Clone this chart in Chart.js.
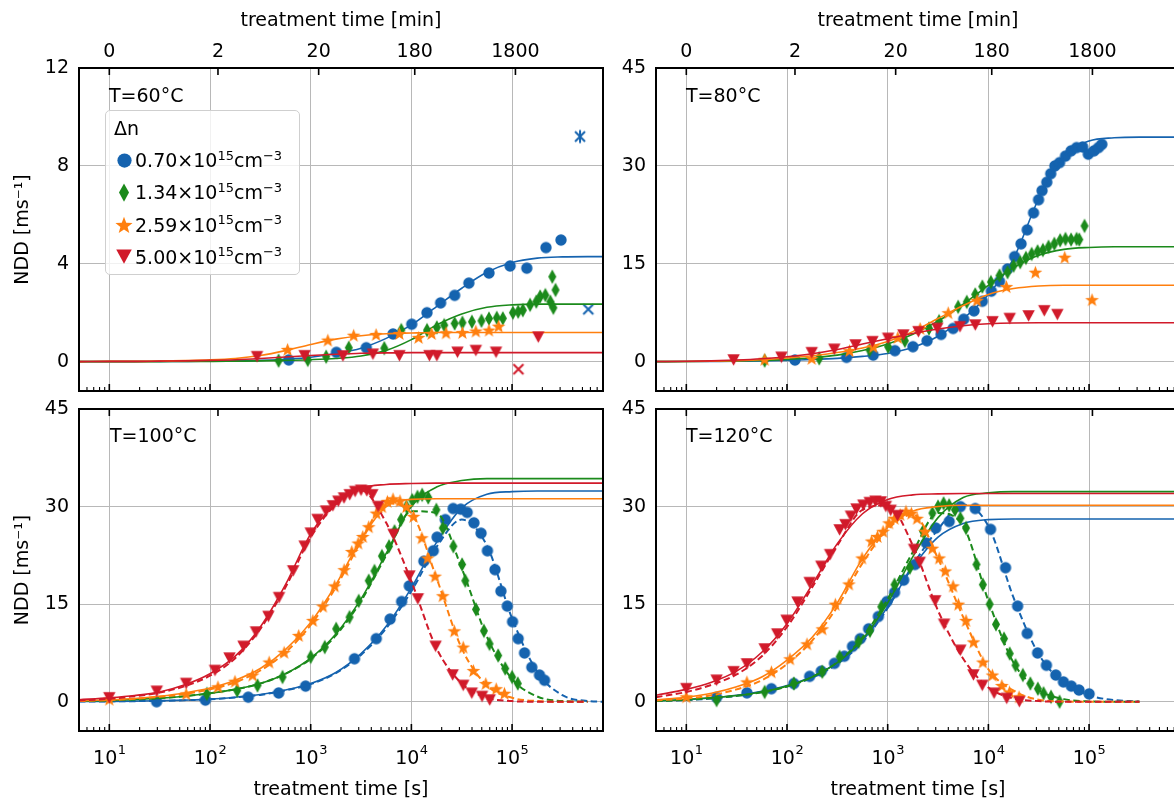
<!DOCTYPE html>
<html>
<head>
<meta charset="utf-8">
<script src="https://cdn.jsdelivr.net/npm/chart.js@4.4.1/dist/chart.umd.min.js"></script>
<style>
html,body{margin:0;padding:0;background:#fff;overflow:hidden;width:1174px;height:803px;position:relative;}
canvas{position:absolute;}
.lbl{position:absolute;font-family:"DejaVu Sans",sans-serif;font-size:19px;line-height:19px;color:#000;white-space:nowrap;}
.sup{font-size:13px;position:relative;top:-7.5px;}
#legend{position:absolute;left:105px;top:110px;width:195px;height:165px;border:1.5px solid #cfcfcf;border-radius:5px;background:rgba(255,255,255,0.8);box-sizing:border-box;}
.mk{position:absolute;}
</style>
</head>
<body>
<canvas id="cTL" width="640" height="430" style="left:0;top:0"></canvas>
<canvas id="cTR" width="640" height="430" style="left:577px;top:0"></canvas>
<canvas id="cBL" width="640" height="443" style="left:0;top:360px"></canvas>
<canvas id="cBR" width="640" height="443" style="left:577px;top:360px"></canvas>
<div id="overlay"></div>
<script>
// ---------- axes ----------
const X_MIN = 5, X_MAX = 800000;
const decadeTicks = [10, 100, 1000, 10000, 100000];
const decadeBase = ['10', '10', '10', '10', '10'];
const decadeExp = ['1', '2', '3', '4', '5'];
const minuteTickSeconds = [10, 120, 1200, 10800, 108000];
const minuteLabels = ['0', '2', '20', '180', '1800'];
const minorMultipliers = [2, 3, 4, 5, 6, 7, 8, 9];
const minorDecades = [1, 10, 100, 1000, 10000, 100000];
const yTicks60 = [0, 4, 8, 12];
const yTicksHigh = [0, 15, 30, 45];
const temperatureLabels = ['T=60\u00B0C', 'T=80\u00B0C', 'T=100\u00B0C', 'T=120\u00B0C'];
const seriesNames = ['0.70', '1.34', '2.59', '5.00'];

// ---------- fit-curve sample times (s) ----------
const fitT = [5, 10, 17.8, 31.6, 56.2, 100, 178, 316, 562, 1000, 1778, 3162, 5623, 10000, 17783, 31623, 56234, 100000, 177828, 316228, 562341, 800000];

// ---------- T = 60 C ----------
const t60BlueT = [605, 1800, 3565, 6570, 10080, 14290, 19500, 26900, 37200, 59000, 95600, 140000, 217000, 306000];
const t60BlueY = [0.07, 0.38, 0.57, 1.13, 1.53, 2.0, 2.4, 2.71, 3.21, 3.62, 3.91, 3.82, 4.66, 4.97];
const t60GreenT = [480, 935, 1425, 2390, 5380, 7940, 14300, 17900, 21200, 26900, 32100, 39900, 49700, 59000, 70500, 81000, 102000, 115000, 128000, 151000, 174000, 190000, 214000, 240000, 251000, 270000, 257000];
const t60GreenY = [0.04, 0.07, 0.2, 0.57, 0.55, 1.29, 1.29, 1.4, 1.49, 1.56, 1.59, 1.63, 1.67, 1.76, 1.79, 1.77, 2.0, 2.04, 2.1, 2.32, 2.45, 2.66, 2.72, 2.45, 3.47, 2.93, 2.2];
const t60OrangeT = [590, 1480, 2670, 4460, 7610, 11800, 15900, 22100, 32100, 43700, 59000, 73500];
const t60OrangeY = [0.5, 0.88, 1.08, 1.11, 1.15, 0.99, 1.15, 1.18, 1.19, 1.25, 1.29, 1.45];
const t60RedT = [293, 870, 2090, 4150, 7610, 15100, 17900, 28700, 43700, 69300, 182000];
const t60RedY = [0.2, 0.24, 0.23, 0.3, 0.24, 0.24, 0.24, 0.38, 0.45, 0.38, 1.0];
const t60BlueCrossT = [571000], t60BlueCrossY = [2.14];
const t60BlueStarT = [473000], t60BlueStarY = [9.2];
const t60RedCrossT = [115600], t60RedCrossY = [-0.31];
const t60BlueFit = [0, 0, 0, 0.01, 0.01, 0.02, 0.03, 0.05, 0.1, 0.18, 0.33, 0.55, 0.95, 1.5, 2.25, 3.0, 3.65, 4.05, 4.23, 4.28, 4.29, 4.29];
const t60GreenFit = [0, 0, 0, 0, 0.01, 0.01, 0.02, 0.03, 0.05, 0.08, 0.13, 0.23, 0.46, 0.9, 1.5, 1.95, 2.22, 2.32, 2.35, 2.35, 2.35, 2.35];
const t60OrangeFit = [0, 0.01, 0.01, 0.02, 0.04, 0.07, 0.13, 0.25, 0.45, 0.7, 0.92, 1.06, 1.14, 1.17, 1.19, 1.19, 1.19, 1.19, 1.19, 1.19, 1.19, 1.19];
const t60RedFit = [0, 0.01, 0.01, 0.02, 0.03, 0.05, 0.08, 0.13, 0.19, 0.25, 0.3, 0.34, 0.36, 0.37, 0.37, 0.37, 0.37, 0.37, 0.37, 0.37, 0.37, 0.37];

// ---------- T = 80 C ----------
const t80BlueT = [120, 390, 718, 1180, 1780, 2460, 3390, 4460, 5690, 7190, 8710, 10700, 12900, 15500, 18200, 21100, 24300, 28100, 31500, 34100, 38000, 41600, 45800, 51000, 58300, 66300, 75200, 86400, 98200, 112000, 124000, 134000];
const t80BlueY = [0.25, 0.66, 1.0, 1.68, 2.29, 3.2, 4.17, 5.08, 6.5, 7.78, 9.25, 10.8, 12.3, 14.2, 16.1, 18.05, 20.2, 22.8, 24.8, 26.2, 27.5, 28.8, 30, 30.5, 31.5, 32.3, 32.8, 32.9, 31.8, 32.3, 32.8, 33.3];
const t80GreenT = [60, 209, 660, 1010, 1480, 2570, 3240, 5010, 6100, 7400, 8710, 10600, 12900, 15500, 17800, 20700, 23600, 26900, 30800, 34800, 39600, 45200, 51600, 58300, 66300, 75200, 80000, 90200];
const t80GreenY = [0.15, 0.5, 1.78, 2.29, 3.2, 5.08, 6.2, 8.4, 9.15, 10.3, 11.5, 12.2, 13.2, 13.7, 14.7, 15.25, 15.9, 16.5, 16.9, 17.1, 17.6, 18.05, 18.6, 18.8, 18.7, 18.8, 18.7, 20.8];
const t80OrangeT = [60, 176, 417, 718, 1260, 2100, 3990, 7710, 15100, 29300, 57300, 107000];
const t80OrangeY = [0.36, 0.5, 1.68, 2.29, 3.7, 5.08, 7.5, 9.4, 11.5, 13.7, 16.0, 9.5];
const t80RedT = [29.5, 88, 176, 295, 480, 705, 1010, 1430, 2020, 3110, 5220, 7410, 11000, 16300, 25100, 35900, 48400];
const t80RedY = [0.25, 0.66, 1.37, 1.88, 2.54, 3.05, 3.56, 4.07, 4.58, 5.08, 5.34, 5.6, 6.1, 6.6, 7.0, 7.78, 7.2];
const t80BlueFit = [0, 0.01, 0.03, 0.05, 0.1, 0.2, 0.32, 0.5, 0.8, 1.25, 2.2, 3.9, 6.6, 10.3, 15.8, 25, 31.5, 33.8, 34.3, 34.4, 34.4, 34.4];
const t80GreenFit = [0, 0.02, 0.05, 0.1, 0.2, 0.35, 0.6, 1.0, 1.7, 2.7, 4.2, 6.2, 8.8, 11.7, 14.4, 16.3, 17.2, 17.5, 17.6, 17.6, 17.6, 17.6];
const t80OrangeFit = [0.01, 0.03, 0.07, 0.15, 0.3, 0.55, 0.9, 1.4, 2.1, 3.1, 4.6, 6.6, 8.6, 10.3, 11.2, 11.6, 11.7, 11.7, 11.7, 11.7, 11.7, 11.7];
const t80RedFit = [0.02, 0.05, 0.12, 0.25, 0.45, 0.75, 1.2, 1.85, 2.7, 3.5, 4.3, 5.0, 5.5, 5.8, 5.93, 5.95, 5.95, 5.95, 5.95, 5.95, 5.95, 5.95];

// ---------- T = 100 C ----------
const t100RedT = [10, 29.6, 58, 112, 156, 215, 286, 380, 485, 670, 870, 1000, 1170, 1420, 1660, 1880, 2140, 2440, 2760, 3160, 3610, 4090, 4670, 6640, 9560, 11600, 17400, 25700, 32700, 39800, 50300, 60000];
const t100RedY = [0.6, 1.6, 2.8, 4.8, 6.7, 8.5, 10.7, 13.1, 16.0, 20.1, 23.9, 25.9, 28, 29.3, 30.1, 30.8, 31.3, 31.8, 32.3, 32.5, 32.4, 31.8, 30.0, 25.7, 19.3, 15.8, 8.5, 4.1, 2.5, 1.3, 0.8, 0.25];
const t100OrangeT = [10, 58, 120, 177, 265, 387, 545, 760, 1050, 1320, 1730, 2150, 2560, 2960, 3290, 3770, 4490, 5100, 5780, 6570, 7700, 8940, 10500, 12700, 14500, 17200, 20500, 26700, 32700, 41300, 54800, 69600, 84000];
const t100OrangeY = [0.4, 1.2, 2.3, 3.15, 4.1, 6.1, 7.6, 10.2, 12.5, 14.7, 17.8, 20.3, 23.1, 24.4, 25.4, 26.9, 29, 30, 30.8, 31.2, 30.9, 30, 28.5, 25.2, 22.1, 19.3, 16.3, 10.9, 8.4, 4.8, 2.8, 2.0, 1.3];
const t100GreenT = [93, 186, 296, 525, 1000, 1380, 1790, 2430, 3000, 3770, 4300, 5100, 6000, 6800, 7900, 8940, 10200, 11500, 12800, 14700, 17700, 20500, 26100, 31900, 34300, 43800, 52500, 59700, 72800, 85500, 100000, 114000];
const t100GreenY = [1.2, 1.7, 2.5, 3.8, 6.9, 8.4, 11.2, 13.0, 15.5, 18.6, 20.1, 22.4, 23.9, 26.2, 28, 30, 31, 31.5, 31.8, 31.4, 29.5, 26.7, 23.9, 21.1, 18.6, 14.2, 10.9, 8.9, 7.1, 5.1, 3.8, 2.8];
const t100BlueT = [29.5, 90, 240, 481, 890, 2720, 4480, 6150, 7990, 9530, 13300, 16500, 18000, 21700, 26000, 30900, 35800, 41800, 49200, 56900, 67600, 77500, 89600, 101000, 115000, 133000, 157000, 187000, 210000];
const t100BlueY = [0, 0.25, 0.7, 1.35, 2.4, 6.6, 9.7, 12.7, 15.4, 17.8, 21.6, 23.2, 25.3, 28, 29.7, 29.6, 29.1, 27.5, 25.9, 23.2, 20.3, 17, 14.7, 12.3, 9.7, 7.5, 5.3, 4.1, 3.3];
const t100RedFit = [0.3, 0.6, 0.95, 1.5, 2.6, 4.3, 7.0, 11.5, 18, 25.8, 30.5, 32.8, 33.4, 33.55, 33.6, 33.6, 33.6, 33.6, 33.6, 33.6, 33.6, 33.6];
const t100RedFall = [0.2, 0.45, 0.85, 1.4, 2.4, 4.0, 6.7, 11.2, 17.6, 25.3, 30.3, 32.5, 27.5, 18.5, 8.2, 2.8, 0.6, 0.1, 0, 0, 0, null];
const t100OrangeFit = [0.15, 0.3, 0.5, 0.85, 1.35, 2.1, 3.3, 5.1, 8.0, 12.2, 18, 25, 30, 31.1, 31.2, 31.2, 31.2, 31.2, 31.2, 31.2, 31.2, 31.2];
const t100OrangeFall = [0.1, 0.25, 0.45, 0.75, 1.2, 1.9, 3.0, 4.8, 7.6, 11.8, 17.6, 24.6, 30.5, 29, 19, 8.2, 2.5, 0.6, 0.1, 0, 0, null];
const t100GreenFit = [0.1, 0.2, 0.35, 0.55, 0.85, 1.3, 1.9, 2.8, 4.3, 6.7, 10.4, 15.8, 22.8, 30.0, 33.0, 34.0, 34.3, 34.3, 34.3, 34.3, 34.3, 34.3];
const t100GreenFall = [0.1, 0.2, 0.35, 0.55, 0.85, 1.3, 1.9, 2.8, 4.3, 6.6, 10.2, 15.5, 22.5, 29.3, 29.0, 20.5, 10, 3.5, 0.8, 0.1, 0, null];
const t100BlueFit = [0.03, 0.06, 0.1, 0.15, 0.25, 0.4, 0.7, 1.1, 1.8, 2.8, 4.5, 7.4, 11.6, 17.5, 24.5, 29.8, 31.9, 32.3, 32.4, 32.4, 32.4, 32.4];
const t100BlueFall = [0.02, 0.05, 0.09, 0.14, 0.23, 0.38, 0.66, 1.05, 1.75, 2.7, 4.4, 7.2, 11.3, 17.0, 23.8, 28.0, 24, 12.8, 4.6, 1.0, 0.1, 0];

// ---------- T = 120 C ----------
const t120RedT = [10, 20, 29.5, 40, 60, 80, 99, 127, 168, 219, 268, 333, 380, 431, 490, 572, 663, 755, 855, 958, 1070, 1250, 1830, 2080, 2960, 3630, 5270, 7100, 8700, 11400, 15200, 20300];
const t120RedY = [2.0, 3.3, 4.6, 5.8, 8.1, 10.4, 12.5, 15.3, 18.3, 20.8, 22.6, 26.4, 27.2, 28.5, 29.6, 30.2, 30.6, 30.8, 30.7, 30, 29.4, 28.6, 23.4, 21.4, 15.5, 11.9, 7.9, 4.1, 2.5, 1.3, 0.5, 0];
const t120OrangeT = [10, 40, 70, 107, 158, 224, 302, 412, 556, 692, 790, 900, 1030, 1170, 1330, 1520, 1720, 1960, 2340, 2780, 3250, 3740, 4460, 5040, 6000, 7120, 8810, 10960, 13600, 16200, 20200];
const t120OrangeY = [0.76, 3.05, 4.6, 6.6, 8.9, 11.2, 15.0, 18.1, 22.1, 24.7, 25.4, 26.2, 27.5, 28.2, 28.8, 29.3, 29, 28.2, 26.2, 23.6, 22.1, 20.1, 17.8, 15.0, 12.5, 9.2, 6.1, 4.1, 2.5, 1.5, 0.76];
const t120GreenT = [20, 60, 117, 224, 333, 513, 667, 864, 1170, 1660, 2240, 2780, 3160, 3590, 4080, 4660, 5270, 6000, 7620, 8810, 10300, 11900, 14300, 16300, 18600, 22000, 26100, 31000, 35300, 41900, 51000];
const t120GreenY = [0.25, 1.5, 2.8, 4.6, 6.9, 9.2, 10.9, 14.6, 18.0, 20.6, 26.2, 29, 30, 30.5, 30.2, 29.5, 28.2, 26.7, 21.1, 18.0, 15.0, 11.9, 9.7, 7.4, 5.6, 4.1, 2.8, 2.0, 1.3, 0.76, 0];
const t120BlueT = [20, 40, 70, 117, 168, 219, 296, 371, 447, 534, 646, 807, 984, 1170, 1440, 1870, 2420, 3000, 4080, 5270, 7400, 10500, 14800, 19500, 24300, 30800, 37700, 46700, 55600, 66600, 79400, 100000];
const t120BlueY = [0.66, 1.37, 2.0, 2.8, 3.9, 4.7, 5.9, 7.0, 8.5, 9.7, 11.2, 13.1, 15.4, 16.8, 18.7, 21.1, 24.4, 26.7, 27.7, 30, 29.7, 26.5, 20.6, 14.7, 10.5, 7.5, 5.6, 4.1, 3.05, 2.4, 1.8, 1.2];
const t120RedFit = [1.0, 1.9, 3.0, 4.7, 7.6, 12.0, 18.0, 24.3, 28.9, 31.1, 31.8, 31.95, 32, 32, 32, 32, 32, 32, 32, 32, 32, 32];
const t120RedFall = [0.7, 1.5, 2.6, 4.2, 7.0, 11.5, 17.6, 24.0, 29.5, 30.2, 24, 14, 6.6, 2.2, 0.5, 0.1, 0, 0, 0, 0, null, null];
const t120OrangeFit = [0.3, 0.7, 1.3, 2.3, 3.8, 6.4, 9.9, 15.2, 22.0, 26.8, 29.3, 30.0, 30.2, 30.2, 30.2, 30.2, 30.2, 30.2, 30.2, 30.2, 30.2, 30.2];
const t120OrangeFall = [0.2, 0.5, 1.0, 1.9, 3.3, 5.8, 9.4, 14.6, 21.3, 26.5, 28.8, 22, 13, 5, 1.7, 0.3, 0.05, 0, 0, 0, null, null];
const t120GreenFit = [0.15, 0.35, 0.6, 0.95, 1.5, 2.4, 3.8, 6.0, 9.6, 15.2, 22.3, 28.3, 31.4, 32.1, 32.3, 32.3, 32.3, 32.3, 32.3, 32.3, 32.3, 32.3];
const t120GreenFall = [0.1, 0.3, 0.55, 0.9, 1.45, 2.35, 3.8, 6.1, 9.9, 15.8, 23, 29.0, 27, 15.5, 6, 1.8, 0.4, 0.05, 0, 0, null, null];
const t120BlueFit = [0.15, 0.3, 0.6, 1.0, 1.6, 2.5, 3.9, 6.0, 9.4, 14.6, 20.7, 25.3, 27.4, 28.0, 28.1, 28.1, 28.1, 28.1, 28.1, 28.1, 28.1, 28.1];
const t120BlueFall = [0.1, 0.25, 0.5, 0.9, 1.5, 2.35, 3.7, 5.8, 9.2, 14.4, 21, 26.5, 30.3, 27, 16, 7.3, 2.9, 1.0, 0.25, 0.05, null, null];

// ---------- styling ----------
const COLORS = {blue: '#1563AF', green: '#1B8A1B', orange: '#FF7F0E', red: '#D11A2A'};
const GRID = '#b8b8b8';
const FONT = '"DejaVu Sans", sans-serif';
Chart.defaults.font.family = FONT;
Chart.defaults.font.size = 19;
Chart.defaults.color = '#000';

function makeMarker(type, color, s) {
  const c = document.createElement('canvas');
  let w, h;
  if (type === 'circle') { w = h = Math.ceil(11.4 * s) + 2; }
  else if (type === 'diamond') { w = Math.ceil(8 * s) + 2; h = Math.ceil(14.6 * s) + 2; }
  else if (type === 'star') { w = h = Math.ceil(14.4 * s) + 2; }
  else if (type === 'tri') { w = Math.ceil(12.4 * s) + 2; h = Math.ceil(11.4 * s) + 2; }
  else { w = h = Math.ceil(14 * s) + 2; }
  c.width = w; c.height = h;
  const g = c.getContext('2d');
  const cx = w / 2, cy = h / 2;
  g.fillStyle = color; g.strokeStyle = color;
  g.beginPath();
  if (type === 'circle') {
    g.arc(cx, cy, 5.7 * s, 0, Math.PI * 2); g.fill();
  } else if (type === 'diamond') {
    g.moveTo(cx, cy - 7.3 * s); g.lineTo(cx + 4 * s, cy); g.lineTo(cx, cy + 7.3 * s); g.lineTo(cx - 4 * s, cy); g.closePath(); g.fill();
  } else if (type === 'star') {
    const R = 7.2 * s, r = R * 0.42;
    for (let i = 0; i < 10; i++) {
      const a = -Math.PI / 2 + i * Math.PI / 5;
      const rr = i % 2 ? r : R;
      const px = cx + rr * Math.cos(a), py = cy + rr * Math.sin(a) + 0.6 * s;
      i ? g.lineTo(px, py) : g.moveTo(px, py);
    }
    g.closePath(); g.fill();
  } else if (type === 'tri') {
    g.moveTo(cx - 6.2 * s, cy - 5.7 * s); g.lineTo(cx + 6.2 * s, cy - 5.7 * s); g.lineTo(cx, cy + 5.7 * s); g.closePath(); g.fill();
  } else if (type === 'x' || type === 'ast') {
    g.lineWidth = 2; const a = 5 * s;
    g.moveTo(cx - a, cy - a); g.lineTo(cx + a, cy + a); g.moveTo(cx - a, cy + a); g.lineTo(cx + a, cy - a);
    if (type === 'ast') { g.moveTo(cx, cy - 6.5 * s); g.lineTo(cx, cy + 6.5 * s); }
    g.stroke();
  }
  return c;
}

const MK = {
  blue: makeMarker('circle', COLORS.blue, 1),
  green: makeMarker('diamond', COLORS.green, 1),
  orange: makeMarker('star', COLORS.orange, 1),
  red: makeMarker('tri', COLORS.red, 1)
};

function pts(t, y) {
  const out = [];
  for (let i = 0; i < t.length; i++) if (y[i] !== null && y[i] !== undefined) out.push({x: t[i], y: y[i]});
  return out;
}

function series(color, t, y, fit, fall, baseOrder) {
  const ds = [];
  ds.push({data: pts(fitT, fit), showLine: true, pointRadius: 0, borderColor: COLORS[color], borderWidth: 1.6,
           cubicInterpolationMode: 'monotone', order: baseOrder});
  if (fall) ds.push({data: pts(fitT, fall), showLine: true, pointRadius: 0, borderColor: COLORS[color], borderWidth: 2,
           borderDash: [6.5, 3.5], cubicInterpolationMode: 'monotone', order: baseOrder + 1});
  ds.push({data: pts(t, y), showLine: false, pointStyle: MK[color], pointRadius: 6,
           backgroundColor: COLORS[color], borderColor: COLORS[color], order: baseOrder + 2});
  return ds;
}

const decorPlugin = {
  id: 'decor',
  afterDraw(chart) {
    const {ctx, chartArea: a} = chart;
    const xs = chart.scales.x;
    ctx.save();
    ctx.strokeStyle = '#000';
    ctx.lineWidth = 1.6;
    ctx.beginPath();
    for (const v of minuteTickSeconds) {
      const px = xs.getPixelForValue(v);
      ctx.moveTo(px, a.top); ctx.lineTo(px, a.top + 7);
    }
    for (const v of decadeTicks) {
      const px = xs.getPixelForValue(v);
      ctx.moveTo(px, a.bottom); ctx.lineTo(px, a.bottom - 7);
    }
    ctx.stroke();
    ctx.lineWidth = 1.1;
    ctx.beginPath();
    for (const d of minorDecades) for (const m of minorMultipliers) {
      const v = m * d;
      if (v < X_MIN || v > X_MAX) continue;
      const px = xs.getPixelForValue(v);
      ctx.moveTo(px, a.bottom); ctx.lineTo(px, a.bottom - 4);
    }
    ctx.stroke();
    ctx.lineWidth = 2;
    ctx.strokeRect(a.left, a.top, a.right - a.left, a.bottom - a.top);
    // bottom tick labels (10 with superscript exponent) on the lower panels
    if (chart.options.showDecadeLabels) {
      ctx.fillStyle = '#000';
      ctx.textBaseline = 'alphabetic';
      ctx.textAlign = 'left';
      const base = a.bottom + 33;
      decadeTicks.forEach((v, i) => {
        const px = xs.getPixelForValue(v);
        ctx.font = '19px ' + FONT;
        const wm = ctx.measureText(decadeBase[i]).width;
        ctx.font = '13px ' + FONT;
        const we = ctx.measureText(decadeExp[i]).width;
        const x0 = px - (wm + we) / 2;
        ctx.font = '19px ' + FONT;
        ctx.fillText(decadeBase[i], x0, base);
        ctx.font = '13px ' + FONT;
        ctx.fillText(decadeExp[i], x0 + wm + 0.5, base - 10.5);
      });
    }
    ctx.restore();
  }
};

function makePanel(id, spec) {
  const isTop = spec.row === 0;
  return new Chart(document.getElementById(id), {
    type: 'scatter',
    data: {datasets: spec.datasets},
    options: {
      responsive: false, animation: false, events: [],
      showDecadeLabels: !isTop,
      layout: {padding: {left: 0, top: 0, right: 37, bottom: 0}},
      plugins: {legend: {display: false}, tooltip: {enabled: false}},
      scales: {
        x: {
          type: 'logarithmic', position: 'bottom', min: X_MIN, max: X_MAX,
          afterBuildTicks: ax => { ax.ticks = decadeTicks.map(v => ({value: v})); },
          afterFit: ax => { ax.height = spec.bottomH; },
          grid: {color: GRID, lineWidth: 1, drawTicks: false},
          border: {display: false},
          ticks: {display: false},
          title: {display: !isTop, text: 'treatment time [s]', padding: {top: 0, bottom: 2}}
        },
        xTop: {
          axis: 'x', type: 'logarithmic', position: 'top', min: X_MIN, max: X_MAX,
          afterBuildTicks: ax => { ax.ticks = minuteTickSeconds.map(v => ({value: v})); },
          afterFit: ax => { ax.height = spec.topH; },
          grid: {display: false, drawTicks: false},
          border: {display: false},
          ticks: {display: isTop, padding: 5, maxRotation: 0, autoSkip: false, callback: (v, i) => minuteLabels[i]},
          title: {display: isTop, text: 'treatment time [min]', padding: {top: 10, bottom: 0}}
        },
        y: {
          type: 'linear', min: spec.ymin, max: spec.ymax,
          afterBuildTicks: ax => { ax.ticks = spec.yticks.map(v => ({value: v})); },
          afterFit: ax => { ax.width = 79; },
          grid: {color: GRID, lineWidth: 1, drawTicks: false},
          border: {display: false},
          ticks: {padding: 10},
          title: {display: spec.yTitle, text: 'NDD [ms\u207B\u00B9]', padding: {top: 12, bottom: 0}}
        }
      }
    },
    plugins: [decorPlugin]
  });
}

function crossSet(t, y, color, type, order) {
  return {data: pts(t, y), showLine: false, pointStyle: makeMarker(type, COLORS[color], 1), pointRadius: 7, order: order};
}

makePanel('cTL', {row: 0, topH: 68, bottomH: 39, ymin: -1.2, ymax: 12, yticks: yTicks60, yTitle: true, datasets: [
  ...series('red', t60RedT, t60RedY, t60RedFit, null, 0),
  crossSet(t60RedCrossT, t60RedCrossY, 'red', 'x', 2),
  ...series('orange', t60OrangeT, t60OrangeY, t60OrangeFit, null, 3),
  ...series('green', t60GreenT, t60GreenY, t60GreenFit, null, 6),
  ...series('blue', t60BlueT, t60BlueY, t60BlueFit, null, 9),
  crossSet(t60BlueCrossT, t60BlueCrossY, 'blue', 'x', 11),
  crossSet(t60BlueStarT, t60BlueStarY, 'blue', 'ast', 11)
]});
makePanel('cTR', {row: 0, topH: 68, bottomH: 39, ymin: -4.5, ymax: 45, yticks: yTicksHigh, yTitle: false, datasets: [
  ...series('red', t80RedT, t80RedY, t80RedFit, null, 0),
  ...series('orange', t80OrangeT, t80OrangeY, t80OrangeFit, null, 3),
  ...series('green', t80GreenT, t80GreenY, t80GreenFit, null, 6),
  ...series('blue', t80BlueT, t80BlueY, t80BlueFit, null, 9)
]});
makePanel('cBL', {row: 1, topH: 49, bottomH: 72, ymin: -4.5, ymax: 45, yticks: yTicksHigh, yTitle: true, datasets: [
  ...series('red', t100RedT, t100RedY, t100RedFit, t100RedFall, 0),
  ...series('orange', t100OrangeT, t100OrangeY, t100OrangeFit, t100OrangeFall, 3),
  ...series('green', t100GreenT, t100GreenY, t100GreenFit, t100GreenFall, 6),
  ...series('blue', t100BlueT, t100BlueY, t100BlueFit, t100BlueFall, 9)
]});
makePanel('cBR', {row: 1, topH: 49, bottomH: 72, ymin: -4.5, ymax: 45, yticks: yTicksHigh, yTitle: false, datasets: [
  ...series('red', t120RedT, t120RedY, t120RedFit, t120RedFall, 0),
  ...series('orange', t120OrangeT, t120OrangeY, t120OrangeFit, t120OrangeFall, 3),
  ...series('green', t120GreenT, t120GreenY, t120GreenFit, t120GreenFall, 6),
  ...series('blue', t120BlueT, t120BlueY, t120BlueFit, t120BlueFall, 9)
]});

// ---------- overlay text: panel labels and legend ----------
const ov = document.getElementById('overlay');
function addLbl(html, left, top) {
  const d = document.createElement('div');
  d.className = 'lbl'; d.innerHTML = html;
  d.style.left = left + 'px'; d.style.top = top + 'px';
  ov.appendChild(d); return d;
}
addLbl(temperatureLabels[0], 109, 85.5);
addLbl(temperatureLabels[1], 686, 86);
addLbl(temperatureLabels[2], 110, 425.5);
addLbl(temperatureLabels[3], 686, 425.5);

const lg = document.createElement('div'); lg.id = 'legend'; ov.appendChild(lg);
addLbl('\u0394n', 114, 119);
const legendColors = ['blue', 'green', 'orange', 'red'];
const legendShapes = ['circle', 'diamond', 'star', 'tri'];
const legendRowTops = [151, 183, 215.5, 247.5];
legendColors.forEach((c, i) => {
  const img = makeMarker(legendShapes[i], COLORS[c], 1.25);
  img.className = 'mk';
  img.style.left = (124 - img.width / 2) + 'px';
  img.style.top = (legendRowTops[i] + 9 - img.height / 2) + 'px';
  ov.appendChild(img);
  addLbl(seriesNames[i] + '\u00D710<span class="sup">15</span>cm<span class="sup">\u22123</span>', 135, legendRowTops[i]);
});
</script>
</body>
</html>
